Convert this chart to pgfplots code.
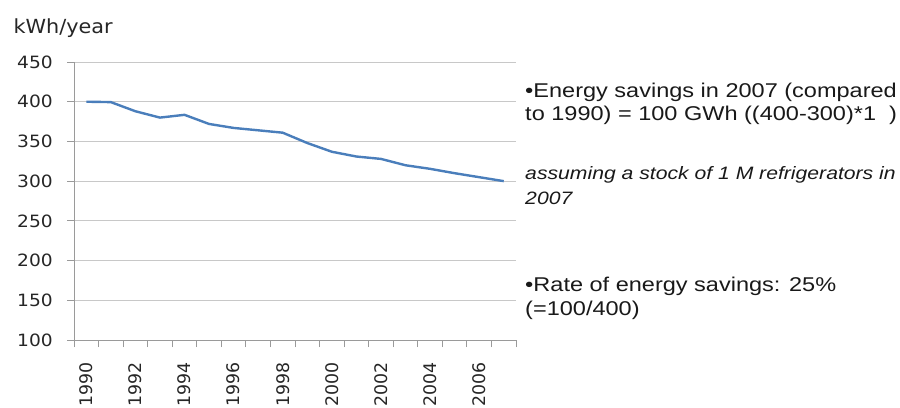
\documentclass[border=0pt]{standalone}
\usepackage{pgfplots}
\pgfplotsset{compat=1.18}
\usepackage{fontspec}
\setmainfont{Liberation Sans}
\newfontfamily\chartfont{DejaVu Sans}
\definecolor{linec}{HTML}{4A7EBB}
\definecolor{gridc}{HTML}{C8C8C8}
\definecolor{axc}{HTML}{9A9A9A}
\pgfplotstableread{
year value
1990 400
1991 399.5
1992 388
1993 380
1994 383.5
1995 372
1996 367
1997 364
1998 361
1999 348
2000 337
2001 331
2002 328
2003 320
2004 315.5
2005 310
2006 305
2007 300
}\datatable
\begin{document}
\begin{tikzpicture}[x=1bp,y=1bp]
\useasboundingbox (0,0) rectangle (900,407);
\begin{axis}[
  at={(74bp,67bp)}, anchor=south west,
  scale only axis, width=442bp, height=278bp,
  xmin=1989.5, xmax=2007.5, ymin=100, ymax=450,
  axis x line*=bottom, axis y line*=left,
  axis line style={axc, line width=0.8bp, -},
  tick align=outside,
  /pgf/number format/assume math mode=true,
  ytick={100,150,...,450},
  ymajorgrids, grid style={gridc, line width=0.8bp},
  xtick={1990,1992,...,2006},
  xticklabels={1990,1992,1994,1996,1998,2000,2002,2004,2006},
  minor xtick={1989.5,1990.5,...,2007.5},
  major tick length=7bp, minor tick length=7bp,
  every major x tick/.append style={draw=none},
  every minor x tick/.append style={axc, line width=0.8bp},
  every major y tick/.append style={axc, line width=0.8bp},
  xminorgrids=false, xmajorgrids=false,
  xticklabel style={rotate=90, anchor=east, inner sep=0pt, font=\chartfont\fontsize{17.4}{17.4}\selectfont, text=black!85},
  yticklabel style={anchor=east, inner sep=0pt, xscale=1.1, font=\chartfont\fontsize{17}{17}\selectfont, text=black!85},
  xticklabel shift=15bp,
  yticklabel shift=14bp,
  clip=false,
]
\addplot[linec, line width=2.4bp] table[x=year, y=value] {\datatable};
\end{axis}
\node[anchor=base west, inner sep=0pt, xscale=1.07, font=\chartfont\fontsize{19.5}{19.5}\selectfont, text=black!85] at (13.3,373.7) {kWh/year};
\begin{scope}[every node/.style={anchor=base west, inner sep=0pt, xscale=1.18, text=black!90}]
\node[font=\fontsize{20}{24}\selectfont] at (525,310) {•Energy savings in 2007 (compared};
\node[font=\fontsize{20}{24}\selectfont] at (525,286.5) {to 1990) = 100 GWh ((400-300)*1\ \ )};
\node[font=\itshape\fontsize{18}{22}\selectfont] at (525,228) {assuming a stock of 1 M refrigerators in};
\node[font=\itshape\fontsize{18}{22}\selectfont] at (525,203) {2007};
\node[font=\fontsize{20}{24}\selectfont] at (525,116) {•Rate of energy savings: 25\%};
\node[font=\fontsize{20}{24}\selectfont] at (525,92) {(=100/400)};
\end{scope}
\end{tikzpicture}
\end{document}
